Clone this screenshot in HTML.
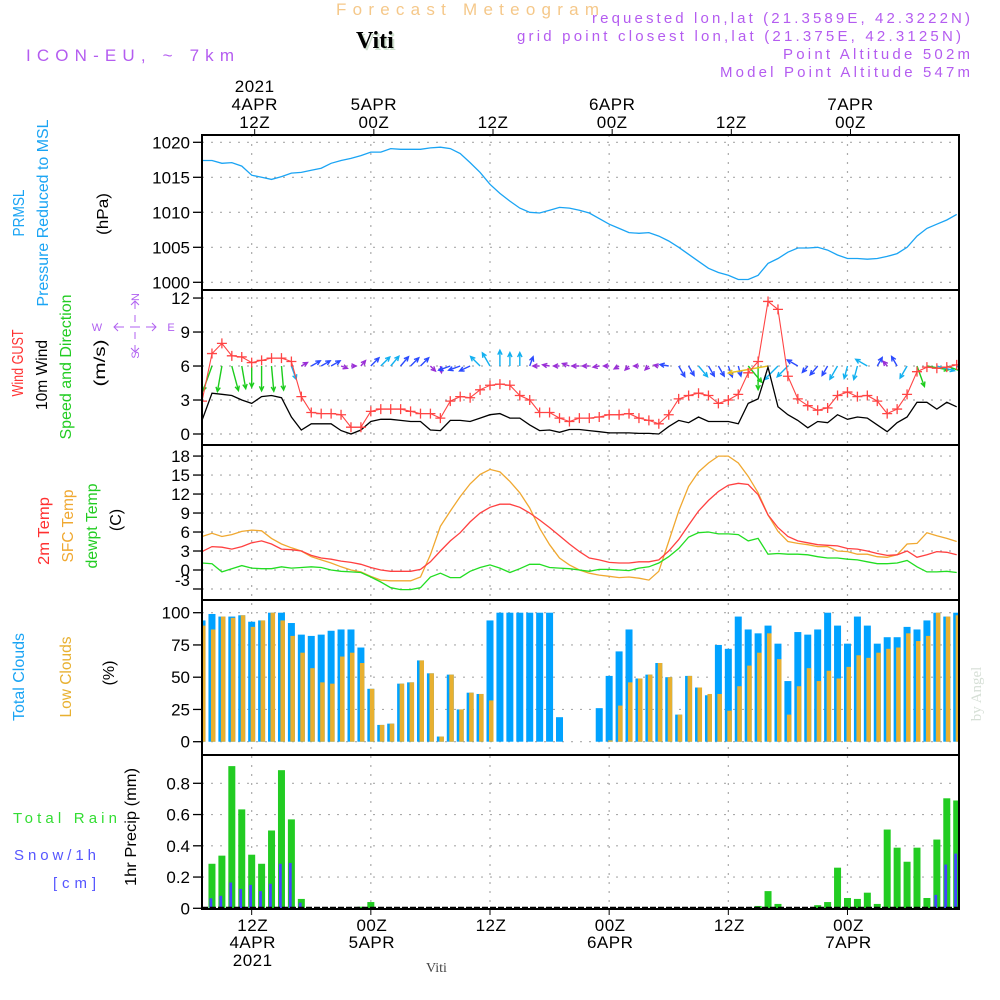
<!DOCTYPE html>
<html><head><meta charset="utf-8"><title>Forecast Meteogram Viti</title>
<style>
html,body{margin:0;padding:0;background:#fff;}
svg{display:block;font-family:"Liberation Sans",sans-serif;}
</style></head>
<body>
<svg id="chart" xmlns="http://www.w3.org/2000/svg" width="1000" height="1000" viewBox="0 0 1000 1000">
<defs><clipPath id="plotclip"><rect x="202" y="135" width="757" height="775"/></clipPath></defs>
<text x="336" y="15" textLength="264" font-size="17" fill="#f5c88a" letter-spacing="1">Forecast Meteogram</text>
<text x="358" y="50" font-family="Liberation Serif,serif" font-weight="bold" font-size="24" fill="#cfe0cf">Viti</text>
<text x="356" y="48" font-family="Liberation Serif,serif" font-weight="bold" font-size="24" fill="#000">Viti</text>
<text x="26" y="61" textLength="208" font-size="17" fill="#b45cf0">ICON-EU, ~ 7km</text>
<text x="592" y="23" textLength="378" font-size="15" fill="#b45cf0">requested lon,lat (21.3589E, 42.3222N)</text>
<text x="517" y="41" textLength="444" font-size="15" fill="#b45cf0">grid point closest lon,lat (21.375E, 42.3125N)</text>
<text x="783" y="59" textLength="187" font-size="15" fill="#b45cf0">Point Altitude 502m</text>
<text x="720" y="77" textLength="250" font-size="15" fill="#b45cf0">Model Point Altitude 547m</text>

<!-- left panel labels -->
<g font-size="16">
<text transform="translate(24,213) rotate(-90)" text-anchor="middle" textLength="47" lengthAdjust="spacingAndGlyphs" fill="#1aa4f4">PRMSL</text>
<text transform="translate(48,213) rotate(-90)" text-anchor="middle" textLength="187" lengthAdjust="spacingAndGlyphs" fill="#1aa4f4">Pressure Reduced to MSL</text>
<text transform="translate(108,214) rotate(-90)" text-anchor="middle" textLength="42" lengthAdjust="spacingAndGlyphs" fill="#000">(hPa)</text>
<text transform="translate(23,363) rotate(-90)" text-anchor="middle" textLength="67" lengthAdjust="spacingAndGlyphs" fill="#ff3030">Wind GUST</text>
<text transform="translate(47,375) rotate(-90)" text-anchor="middle" textLength="70" lengthAdjust="spacingAndGlyphs" fill="#000">10m Wind</text>
<text transform="translate(71,367) rotate(-90)" text-anchor="middle" textLength="145" lengthAdjust="spacingAndGlyphs" fill="#22cc22">Speed and Direction</text>
<text transform="translate(105,363) rotate(-90)" text-anchor="middle" textLength="47" lengthAdjust="spacingAndGlyphs" fill="#000">(m/s)</text>
<text transform="translate(49,531) rotate(-90)" text-anchor="middle" textLength="68" lengthAdjust="spacingAndGlyphs" fill="#ff3030">2m Temp</text>
<text transform="translate(73,526) rotate(-90)" text-anchor="middle" textLength="73" lengthAdjust="spacingAndGlyphs" fill="#f0a830">SFC Temp</text>
<text transform="translate(97,526) rotate(-90)" text-anchor="middle" textLength="85" lengthAdjust="spacingAndGlyphs" fill="#22cc22">dewpt Temp</text>
<text transform="translate(121,520) rotate(-90)" text-anchor="middle" fill="#000">(C)</text>
<text transform="translate(24,677) rotate(-90)" text-anchor="middle" textLength="88" lengthAdjust="spacingAndGlyphs" fill="#1aa4f4">Total Clouds</text>
<text transform="translate(71,677) rotate(-90)" text-anchor="middle" textLength="81" lengthAdjust="spacingAndGlyphs" fill="#e8b030">Low Clouds</text>
<text transform="translate(114,673) rotate(-90)" text-anchor="middle" fill="#000">(%)</text>
<text transform="translate(136,827) rotate(-90)" text-anchor="middle" textLength="118" lengthAdjust="spacingAndGlyphs" fill="#000">1hr Precip (mm)</text>
<text x="13" y="823" textLength="104" font-size="15" fill="#33dd33">Total   Rain</text>
<text x="14" y="860" textLength="82" font-size="15" fill="#5555ff">Snow/1h</text>
<text x="53" y="888" textLength="43" font-size="15" fill="#5555ff">[cm]</text>
</g>
<!-- compass -->
<g fill="#b060f0" stroke="#b060f0" font-size="11">
<text stroke="none" transform="translate(139,297) rotate(-90)" text-anchor="middle">N</text>
<text stroke="none" transform="translate(139,355) rotate(-90)" text-anchor="middle">S</text>
<text stroke="none" x="97" y="331" text-anchor="middle">W</text>
<text stroke="none" x="171" y="331" text-anchor="middle">E</text>
<path fill="none" stroke-width="1" d="M114,327 H124 M130,327 H140 M146,327 H156 M118,323 L114,327 L118,331 M152,323 L156,327 L152,331 M135,301 V309 M135,315 V322 M135,332 V339 M135,345 V352 M131,305 L135,301 L139,305 M131,348 L135,352 L139,348"/>
</g>
<text transform="translate(981,694) rotate(-90)" text-anchor="middle" font-family="Liberation Serif,serif" font-size="15" fill="#d6dfd6">by Angel</text>
<text x="426" y="972" font-family="Liberation Serif,serif" font-size="14" fill="#444">Viti</text>

<g id="grid"></g>
<g id="marks" clip-path="url(#plotclip)"></g>
<g id="frames"></g>
<g id="axes" font-size="17"></g>
</svg>
<script>
// ---------- data (hourly, starting hour 7 of 4 APR 2021 00Z, index i => hour 7+i) ----------
const startHour = 7;
const pressure = [1017.4,1017.4,1017.0,1017.1,1016.6,1015.3,1015.0,1014.7,1015.1,1015.6,
1015.7,1016.0,1016.3,1017.0,1017.4,1017.7,1018.1,1018.6,1018.6,1019.1,
1019.0,1019.0,1019.0,1019.2,1019.3,1019.1,1018.4,1017.1,1015.7,1014.0,
1012.7,1011.6,1010.6,1010.0,1009.9,1010.3,1010.7,1010.6,1010.3,1009.9,
1009.1,1008.3,1007.7,1007.1,1007.0,1007.1,1006.6,1005.9,1005.0,1004.0,
1003.0,1002.0,1001.4,1001.0,1000.4,1000.4,1001.0,1002.7,1003.4,1004.3,
1004.9,1004.9,1005.0,1004.6,1003.9,1003.4,1003.4,1003.3,1003.4,1003.7,
1004.1,1005.0,1006.6,1007.7,1008.3,1008.9,1009.7];
const windGust = [2.9,7.1,8.0,6.9,6.8,6.3,6.5,6.7,6.7,6.4,
3.3,1.9,1.8,1.8,1.7,0.6,0.6,2.0,2.2,2.2,
2.2,2.0,1.8,1.8,1.4,2.9,3.3,3.2,3.9,4.3,
4.4,4.3,3.4,3.0,1.9,1.9,1.4,1.1,1.4,1.4,
1.5,1.7,1.7,1.8,1.4,1.2,0.9,1.7,3.1,3.4,
3.6,3.4,2.7,3.0,3.5,5.4,6.4,11.7,11.0,5.1,
3.1,2.5,2.1,2.3,3.4,3.7,3.3,3.4,2.9,1.8,
2.2,3.5,5.5,5.9,5.8,5.9,6.1];
const windSpeed = [1.2,3.6,3.5,3.4,3.0,2.7,3.3,3.4,3.2,1.5,
0.35,0.9,0.9,0.9,0.3,0.0,0.35,1.1,1.3,1.3,
1.2,1.1,1.1,0.35,0.3,1.2,1.2,1.1,1.4,1.7,
1.8,1.4,1.4,0.8,0.3,0.35,0.15,0.4,0.4,0.3,
0.2,0.1,0.1,0.1,0.05,0.05,0.0,0.65,1.2,1.0,
1.5,1.1,1.1,1.1,0.9,2.7,3.1,5.9,2.4,1.7,
1.2,0.55,1.1,1.0,1.7,1.3,1.5,1.4,0.8,0.2,
1.0,1.5,2.8,2.8,2.2,2.8,2.4];
const windDirFrom = [20,20,10,345,350,0,0,355,355,340,
240,240,240,240,290,270,220,225,225,220,
220,225,225,315,350,70,70,65,135,150,
180,180,180,200,90,100,90,110,90,90,
80,90,60,45,90,45,100,100,330,330,
320,330,330,340,345,320,0,80,45,45,
120,40,40,30,30,15,15,120,210,140,
150,30,340,280,285,290,300];
const temp2m = [2.9,3.7,3.6,3.3,3.7,4.3,4.6,4.1,3.3,3.2,
3.0,2.3,1.9,1.7,1.4,1.2,0.9,0.4,0.0,-0.2,
-0.2,-0.2,0.1,1.3,3.0,4.6,5.9,7.6,9.0,9.9,
10.4,10.4,9.9,9.0,7.9,6.7,5.4,4.1,2.9,1.9,
1.6,1.2,1.1,1.1,1.3,1.3,1.6,3.0,4.8,7.1,
9.3,11.0,12.4,13.4,13.7,13.5,11.9,8.7,6.7,5.3,
4.6,4.3,4.0,3.9,3.8,3.4,3.3,3.0,2.6,2.3,
2.4,3.0,2.0,2.4,2.9,2.8,2.4];
const tempSfc = [5.3,5.8,5.3,5.6,6.1,6.3,6.2,5.0,4.1,3.5,
3.0,2.1,1.6,1.1,0.5,0.0,-0.3,-1.0,-1.6,-1.7,
-1.7,-1.7,-1.1,2.4,6.9,9.3,11.6,13.6,15.1,15.9,
15.5,14.0,12.2,9.8,6.6,4.0,1.9,0.8,0.0,-0.5,
-0.8,-1.0,-1.2,-1.1,-1.3,-1.6,-0.2,4.5,9.3,13.2,
15.5,16.9,18.0,18.0,16.9,14.8,12.2,8.7,6.1,4.5,
4.2,4.0,3.7,3.7,3.0,2.9,2.5,2.5,2.1,2.0,
2.4,4.1,4.2,5.9,5.4,5.0,4.5];
const dewpoint = [1.1,1.0,-0.3,0.2,0.7,0.3,0.2,0.2,0.5,0.3,
0.4,0.5,0.4,0.0,-0.2,-0.3,-0.4,-1.1,-1.9,-2.8,
-3.1,-3.1,-2.8,-1.1,-0.5,-1.2,-1.2,-0.2,0.4,0.8,
0.3,-0.4,0.2,0.9,0.9,0.4,0.3,0.2,0.0,-0.2,
0.1,0.1,0.0,-0.1,0.3,0.5,1.1,2.1,3.4,5.2,
5.9,6.0,5.7,5.7,5.6,4.6,5.0,2.5,2.6,2.5,
2.5,2.4,2.1,1.9,1.9,1.7,1.6,1.3,1.0,1.0,
1.1,1.5,0.5,-0.3,-0.3,-0.2,-0.4];
const totalClouds = [94,99,97,97,98,93,94,100,100,92,
83,82,83,86,87,87,73,41,13,14,
45,46,63,53,4,52,25,38,37,94,
100,100,100,100,100,100,19,0,0,0,
26,51,70,87,49,52,61,50,21,51,
42,36,75,72,97,87,84,90,76,47,
85,83,87,100,90,76,97,90,76,81,
81,89,87,94,100,97,100];
const lowClouds = [90,87,97,96,98,89,94,100,94,82,
69,57,46,45,66,69,61,41,13,14,
45,46,63,53,4,52,25,38,37,32,
0,0,0,0,0,0,0,0,0,0,
0,1,28,46,49,52,61,50,21,51,
42,37,37,24,43,59,69,84,64,21,
43,57,47,55,49,58,67,65,69,72,
73,84,78,82,100,97,98];
const precipHours = [8,9,10,11,12,13,14,15,16,17,23,24,63,64,65,69,70,71,72,73,74,75,76,77,78,79,80,81,82,83];
const rainValues = [0.285,0.337,0.91,0.633,0.343,0.285,0.498,0.884,0.569,0.06,0.01,0.04,0.015,0.11,0.028,0.02,0.04,0.26,0.066,0.06,0.1,0.028,0.504,0.388,0.298,0.388,0.066,0.44,0.704,0.69];
const snowValues = [0.064,0.08,0.165,0.124,0.15,0.11,0.157,0.285,0.29,0.036,0,0,0,0,0,0,0,0,0,0,0,0,0,0,0,0,0,0.086,0.28,0.35];
const pressureTicks = [1020,1015,1010,1005,1000];
const windTicks = [12,9,6,3,0];
const tempTicks = [18,15,12,9,6,3,0,-3];
const cloudTicks = [100,75,50,25,0];
const precipTicks = [0.8,0.6,0.4,0.2,0];
const gridHours = [12,24,36,48,60,72];
const topTimeLabels = [["2021","4APR","12Z"],["","5APR","00Z"],["","","12Z"],["","6APR","00Z"],["","","12Z"],["","7APR","00Z"]];
const bottomTimeLabels = [["12Z","4APR","2021"],["00Z","5APR",""],["12Z","",""],["00Z","6APR",""],["12Z","",""],["00Z","7APR",""]];

// ---------- scales ----------
const NS = "http://www.w3.org/2000/svg";
function X(h){ return 490 + (h - 36) * 9.93; }
function yP(v){ return 142.3 + (1020 - v) * 7; }
function yW(v){ return 434 - v * 11.33; }
function yT(v){ return 570 - v * 6.33; }
function yC(v){ return 741.7 - v * 1.29; }
function yR(v){ return 908.3 - v * 156.25; }
function mk(tag, attrs, parent){ const e = document.createElementNS(NS, tag); for (const k in attrs) e.setAttribute(k, attrs[k]); parent.appendChild(e); return e; }

const grid = document.getElementById('grid');
const marks = document.getElementById('marks');
const frames = document.getElementById('frames');
const axes = document.getElementById('axes');
const L = 202, R = 959;
const panels = [
  {name:'pressure', top:135, bot:290, ticks:pressureTicks, y:yP, fmt:v=>String(v)},
  {name:'wind', top:290, bot:445, ticks:windTicks, y:yW, fmt:v=>String(v)},
  {name:'temperature', top:445, bot:600, ticks:tempTicks, y:yT, fmt:v=>String(v)},
  {name:'clouds', top:600, bot:755, ticks:cloudTicks, y:yC, fmt:v=>String(v)},
  {name:'precip', top:755, bot:909, ticks:precipTicks, y:yR, fmt:v=>v===0?'0':v.toFixed(1)}
];

panels.forEach(p => {
  p.ticks.forEach(t => {
    const yy = p.y(t);
    const g = mk('line', {x1:L, x2:R, y1:yy, y2:yy, stroke:'#aaa', 'stroke-width':1.2, 'stroke-dasharray':'2,7'}, grid);
    
    
    const tk = mk('line', {x1:193, x2:L, y1:yy, y2:yy, stroke:'#000', 'stroke-width':1.3}, axes);
    
    
    let ly = yy + 6;
    if (p.name === 'temperature' && t === -3) ly = yy - 3;
    const lb = mk('text', {x:190, y:ly, 'text-anchor':'end', fill:'#000'}, axes);
    lb.textContent = p.fmt(t);
    
    
  });
  const fr = mk('rect', {x:L, y:p.top, width:R-L, height:p.bot-p.top, fill:'none', stroke:'#000', 'stroke-width':2}, frames);
  
  
});
gridHours.forEach((h, k) => {
  const xx = X(h);
  const v = mk('line', {x1:xx, x2:xx, y1:135, y2:909, stroke:'#aaa', 'stroke-width':1.2, 'stroke-dasharray':'2,7'}, grid);
  
  
  const tt = mk('line', {x1:xx+3, x2:xx+3, y1:129, y2:135, stroke:'#000'}, axes);
  
  
  const bt = mk('line', {x1:xx, x2:xx, y1:909, y2:915, stroke:'#000'}, axes);
  
  
  [92,110,128].forEach((by, r) => {
    const s = topTimeLabels[k][r]; if (!s) return;
    const t = mk('text', {x:xx+3, y:by, 'text-anchor':'middle', 'font-size':17, 'letter-spacing':0.5}, axes);
    t.textContent = s;
    
    
  });
  [931,948,966].forEach((by, r) => {
    const s = bottomTimeLabels[k][r]; if (!s) return;
    const t = mk('text', {x:xx+1, y:by, 'text-anchor':'middle', 'font-size':17, 'letter-spacing':0.5}, axes);
    t.textContent = s;
    
    
  });
});
const baseAxis = mk('line', {x1:L, x2:R, y1:908, y2:908, stroke:'#000', 'stroke-width':2.5, 'stroke-dasharray':'6,2'}, frames);



function pts(arr, yf){ return arr.map((v,i) => X(startHour+i).toFixed(1) + ',' + yf(v).toFixed(1)).join(' '); }

const pl = mk('polyline', {points:pts(pressure, yP), fill:'none', stroke:'#1aa4f4', 'stroke-width':1.3}, marks);



function windColor(s){ if (s < 0.5) return '#9a2fd6'; if (s < 1.25) return '#2b4bff'; if (s < 2.5) return '#12b0f0'; if (s < 4.5) return '#1ccc1c'; return '#e8c020'; }
windSpeed.forEach((s, i) => {
  const x0 = X(startHour+i), y0 = yW(6);
  const t = (windDirFrom[i] + 180) * Math.PI / 180;
  const len = 5 + 6 * s;
  const x1 = x0 + len * Math.sin(t), y1 = y0 - len * Math.cos(t);
  const ang = Math.atan2(y1 - y0, x1 - x0);
  const hl = 5, a1 = ang + Math.PI - 0.45, a2 = ang + Math.PI + 0.45;
  const d = `M${x0.toFixed(1)},${y0.toFixed(1)} L${x1.toFixed(1)},${y1.toFixed(1)} M${(x1+hl*Math.cos(a1)).toFixed(1)},${(y1+hl*Math.sin(a1)).toFixed(1)} L${x1.toFixed(1)},${y1.toFixed(1)} L${(x1+hl*Math.cos(a2)).toFixed(1)},${(y1+hl*Math.sin(a2)).toFixed(1)}`;
  const a = mk('path', {d:d, fill:'none', stroke:windColor(s), 'stroke-width':1.4}, marks);
  
  
});
const wl = mk('polyline', {points:pts(windSpeed, yW), fill:'none', stroke:'#000', 'stroke-width':1.3}, marks);


const gl = mk('polyline', {points:pts(windGust, yW), fill:'none', stroke:'#ff4444', 'stroke-width':1.1}, marks);


windGust.forEach((g, i) => {
  const x = X(startHour+i), y = yW(g);
  const m = mk('path', {d:`M${x-5},${y} H${x+5} M${x},${y-5} V${y+5}`, stroke:'#ff4444', 'stroke-width':1.3}, marks);
  
  
});

[[tempSfc,'#f0a830','sfc-temp-line'],[temp2m,'#ff4040','2m-temp-line'],[dewpoint,'#22dd22','dewpoint-line']].forEach(s => {
  const l = mk('polyline', {points:pts(s[0], yT), fill:'none', stroke:s[1], 'stroke-width':1.3}, marks);
  
  
});

totalClouds.forEach((v, i) => {
  const x = X(startHour+i);
  if (v > 0) {
    const b = mk('rect', {x:x-3.5, y:yC(v), width:7, height:yC(0)-yC(v), fill:'#00a2ff'}, marks);
    
    
  }
  const lv = lowClouds[i];
  if (lv > 0) {
    const b2 = mk('rect', {x:x-1, y:yC(lv), width:4.5, height:yC(0)-yC(lv), fill:'#e8b030'}, marks);
    
    
  }
});

precipHours.forEach((h, i) => {
  const x = X(h);
  const r = rainValues[i];
  const b = mk('rect', {x:x-3.5, y:yR(r), width:7, height:yR(0)-yR(r), fill:'#22cc22'}, marks);
  
  
  const s = snowValues[i];
  if (s > 0) {
    const b2 = mk('rect', {x:x-2.5, y:yR(s), width:2.8, height:yR(0)-yR(s), fill:'#4444ff'}, marks);
    
    
  }
});
</script>
</body></html>
